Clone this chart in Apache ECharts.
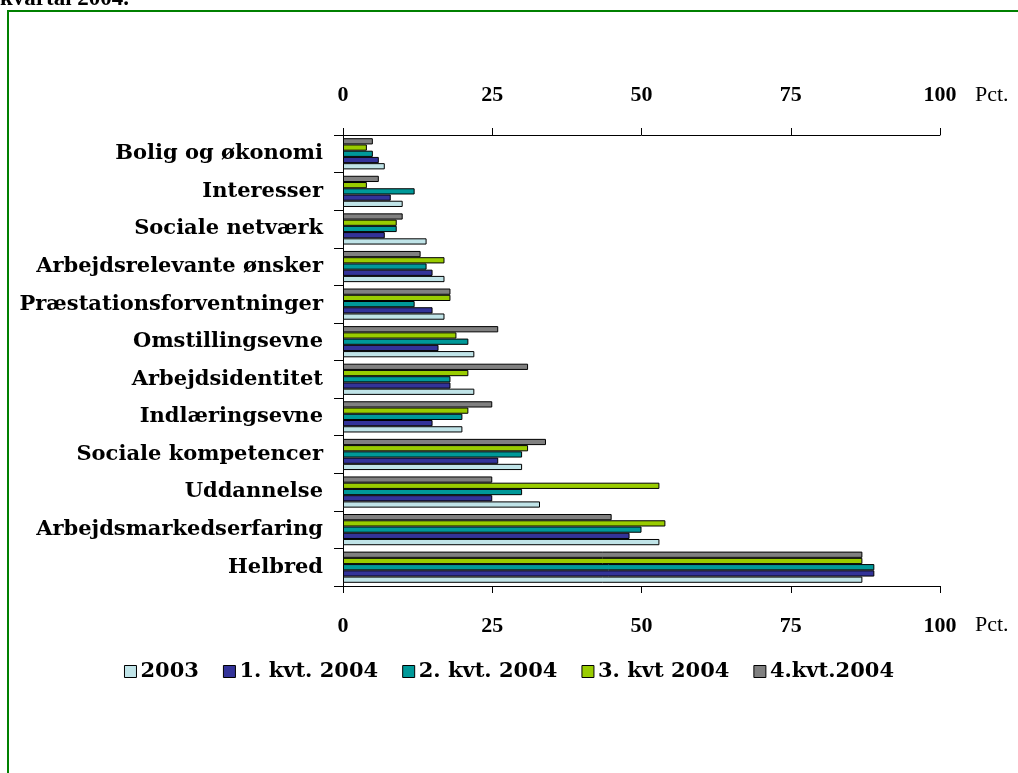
<!DOCTYPE html>
<html>
<head>
<meta charset="utf-8">
<script src="https://cdn.jsdelivr.net/npm/echarts@6/dist/echarts.min.js"></script>
<style>
  html, body { margin: 0; padding: 0; background: #fff; }
  #chart { width: 1018px; height: 773px; }
</style>
</head>
<body>
<div id="chart"></div>
<script>
// kategorier, nederst først (Helbred ligger nederst)
const categories = ['Helbred', 'Arbejdsmarkedserfaring', 'Uddannelse', 'Sociale kompetencer',
  'Indlæringsevne', 'Arbejdsidentitet', 'Omstillingsevne', 'Præstationsforventninger',
  'Arbejdsrelevante ønsker', 'Sociale netværk', 'Interesser', 'Bolig og økonomi']
const seriesNames = ['2003', '1. kvt. 2004', '2. kvt. 2004', '3. kvt 2004', '4.kvt.2004']
const v2003 = [87, 53, 33, 30, 20, 22, 22, 17, 17, 14, 10, 7]
const kvt1 = [89, 48, 25, 26, 15, 18, 16, 15, 15, 7, 8, 6]
const kvt2 = [89, 50, 30, 30, 20, 18, 21, 12, 14, 9, 12, 5]
const kvt3 = [87, 54, 53, 31, 21, 21, 19, 18, 17, 9, 4, 4]
const kvt4 = [87, 45, 25, 34, 25, 31, 26, 18, 13, 10, 6, 5]
const tickValues = [0, 25, 50, 75, 100]
const colors = ['#c0e4e8', '#333399', '#009999', '#99cc00', '#808080']

const serif = '"Liberation Serif", "Times New Roman", serif'
const wideSerif = '"DejaVu Serif", serif'

const chart = echarts.init(document.getElementById('chart'))

const xAxisBase = pos => ({
  type: 'value',
  position: pos,
  min: tickValues[0],
  max: tickValues[tickValues.length - 1],
  interval: 25,
  splitLine: { show: false },
  axisLine: { show: true, lineStyle: { color: '#000', width: 1 } },
  axisTick: { show: true, inside: false, length: 7, lineStyle: { color: '#000' } },
  axisLabel: {
    margin: 29,
    color: '#000',
    fontFamily: serif,
    fontWeight: 'bold',
    fontSize: 22
  }
})

const data = [v2003, kvt1, kvt2, kvt3, kvt4]

// 4.kvt tegnes først, så 2003 ligger nederst i hver gruppe
const series = []
for (let i = seriesNames.length - 1; i >= 0; i--) {
  series.push({
    name: seriesNames[i],
    type: 'bar',
    xAxisIndex: 1,
    data: data[i],
    barGap: '0%',
    barCategoryGap: '17%',
    itemStyle: { color: colors[i], borderColor: '#000', borderWidth: 1 }
  })
}

chart.setOption({
  animation: false,
  grid: { left: 343, right: 78, top: 135, bottom: 187, containLabel: false },
  xAxis: [xAxisBase('top'), xAxisBase('bottom')],
  yAxis: {
    type: 'category',
    data: categories,
    axisLine: { show: true, lineStyle: { color: '#000' } },
    axisTick: { show: true, inside: false, length: 9, lineStyle: { color: '#000' } },
    axisLabel: {
      margin: 20,
      color: '#000',
      fontFamily: wideSerif,
      fontWeight: 'bold',
      fontSize: 21
    }
  },
  legend: {
    left: 'center',
    top: 656,
    icon: 'rect',
    itemWidth: 12,
    itemHeight: 12,
    itemGap: 24,
    data: seriesNames,
    itemStyle: { borderColor: '#000', borderWidth: 1 },
    textStyle: { color: '#000', fontFamily: wideSerif, fontWeight: 'bold', fontSize: 21, padding: [0, 0, 0, -1] }
  },
  graphic: [
    { type: 'rect', shape: { x: 8, y: 11, width: 1030, height: 800 },
      style: { fill: 'none', stroke: '#008000', lineWidth: 2 } },
    { type: 'text', left: 0, top: -12,
      style: { text: 'kvartal 2004.', font: 'bold 23px ' + serif, fill: '#000' } },
    { type: 'text', left: 975, top: 84,
      style: { text: 'Pct.', font: '22px ' + serif, fill: '#000' } },
    { type: 'text', left: 975, top: 614,
      style: { text: 'Pct.', font: '22px ' + serif, fill: '#000' } }
  ],
  series
})
</script>
</body>
</html>
